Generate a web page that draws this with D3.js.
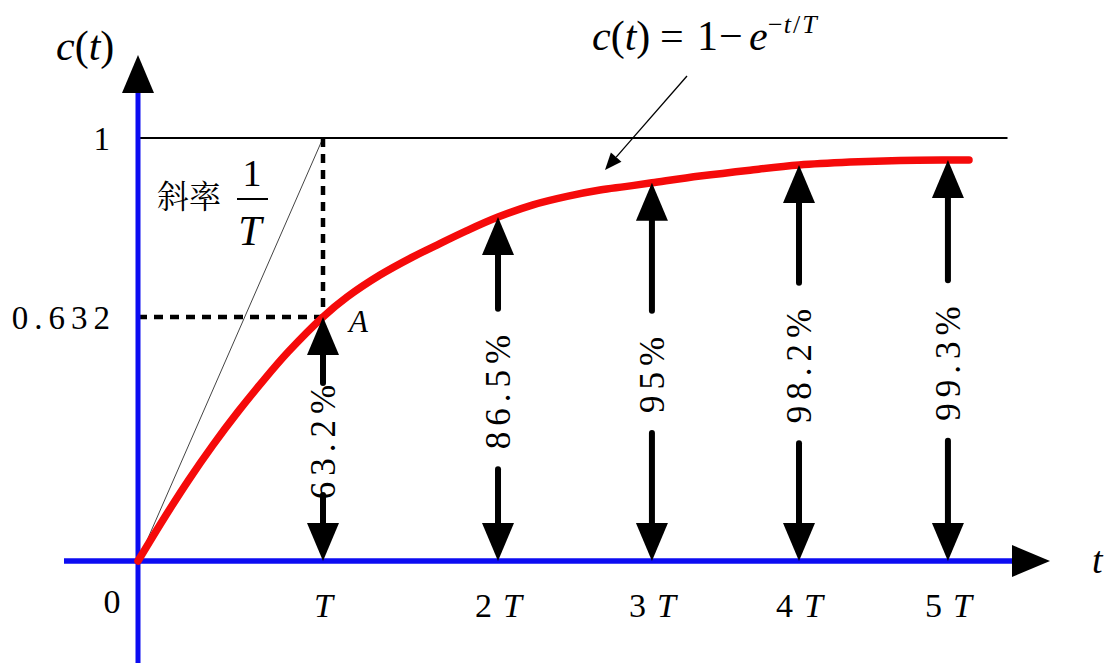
<!DOCTYPE html>
<html><head><meta charset="utf-8">
<script src="https://cdn.jsdelivr.net/npm/d3@7"></script>
<style>body{margin:0;background:#fff}svg{display:block}</style>
</head><body>
<svg id="c" width="1115" height="663"></svg>
<script>
// ---- data (schematic units: t in T, c as drawn height) ----
const curveT = [0, 0.135, 0.270, 0.405, 0.541, 0.676, 0.811, 1.0, 1.130, 1.308, 1.486, 1.616, 1.778, 1.946, 2.135, 2.319, 2.497, 2.632, 2.778, 3.038, 3.308, 3.573, 3.849, 4.119, 4.378, 4.492];
const curveC = [0, 0.097, 0.189, 0.274, 0.353, 0.426, 0.494, 0.577, 0.624, 0.676, 0.719, 0.747, 0.781, 0.813, 0.842, 0.862, 0.877, 0.885, 0.894, 0.910, 0.924, 0.936, 0.943, 0.947, 0.948, 0.948];
const tickT = [1, 1.946, 2.778, 3.573, 4.378];
const tickNum = ["", "2", "3", "4", "5"];
const percentLabels = ["63.2%", "86.5%", "95%", "98.2%", "99.3%"];
const yTickValues = [0.577, 1];
const yTickLabels = ["0.632", "1"];
const tangentEnd = [1, 1];
const steadyLineEnd = 4.7;

const SERIF = '"Liberation Serif"';
const CJK = '"Noto Serif CJK SC"';
const BLUE = "#0c0cf2", RED = "#f50a0a";

const svg = d3.select("#c");
const x = d3.scaleLinear().domain([0, 4.5]).range([138, 970.5]);
const y = d3.scaleLinear().domain([0, 1]).range([561, 138]);
const pts = curveT.map((t, i) => [t, curveC[i]]);
const cAt = t => curveC[curveT.indexOf(t)];

// steady-state line c=1
svg.append("line").attr("x1", x(0)).attr("x2", x(steadyLineEnd))
  .attr("y1", y(1)).attr("y2", y(1)).attr("stroke", "#000").attr("stroke-width", 2);

// tangent line slope 1/T
svg.append("line").attr("x1", x(0)).attr("y1", y(0))
  .attr("x2", x(tangentEnd[0])).attr("y2", y(tangentEnd[1]))
  .attr("stroke", "#444").attr("stroke-width", 1);

// dashed guides at A
const aC = cAt(1);
svg.append("line").attr("x1", x(0)).attr("x2", x(1)).attr("y1", y(aC)).attr("y2", y(aC))
  .attr("stroke", "#000").attr("stroke-width", 4.5).attr("stroke-dasharray", "9,7");
svg.append("line").attr("x1", x(1)).attr("x2", x(1)).attr("y1", y(1)).attr("y2", y(aC))
  .attr("stroke", "#000").attr("stroke-width", 4.5).attr("stroke-dasharray", "9,7");

// axes lines (blue) with black arrowheads
const x0 = x(0), y0 = y(0);
svg.append("line").attr("x1", x0).attr("x2", x0).attr("y1", 663).attr("y2", 90)
  .attr("stroke", BLUE).attr("stroke-width", 5);
svg.append("path").attr("d", `M${x0},55 L${x0-16},93 L${x0+16},93 Z`).attr("fill", "#000");
svg.append("line").attr("x1", 64).attr("x2", 1014).attr("y1", y0).attr("y2", y0)
  .attr("stroke", BLUE).attr("stroke-width", 5.5);
svg.append("path").attr("d", `M1050,${y0} L1012,${y0-16} L1012,${y0+16} Z`).attr("fill", "#000");

// response curve
svg.append("path").datum(pts)
  .attr("d", d3.line().x(d => x(d[0])).y(d => y(d[1])).curve(d3.curveCatmullRom.alpha(0.5)))
  .attr("fill", "none").attr("stroke", RED).attr("stroke-width", 7.5).attr("stroke-linecap", "round");

// double arrows with percentage labels
const headH = 38, headW = 16;
tickT.forEach((t, i) => {
  const px = x(t), tipY = y(cAt(t));
  const g = svg.append("g");
  g.append("path").attr("d", `M${px},${tipY} L${px-headW},${tipY+headH} L${px+headW},${tipY+headH} Z`).attr("fill", "#000");
  g.append("path").attr("d", `M${px},${y0} L${px-headW},${y0-headH} L${px+headW},${y0-headH} Z`).attr("fill", "#000");
  const top = tipY + headH, bot = y0 - headH, mid = (top + bot) / 2;
  const txt = g.append("text").style("font-family", SERIF)
    .attr("transform", `translate(${px},${mid}) rotate(-90)`)
    .attr("text-anchor", "middle").attr("dy", "0.34em")
    .attr("font-size", 35).attr("letter-spacing", 6)
    .text(percentLabels[i]);
  const len = txt.node().getComputedTextLength();
  const half = Math.min(len / 2 + 20, (bot - top) / 2 - 28);
  g.append("line").attr("x1", px).attr("x2", px).attr("y1", top - 2).attr("y2", mid - half)
    .attr("stroke", "#000").attr("stroke-width", 6).attr("stroke-linecap", "round");
  g.append("line").attr("x1", px).attr("x2", px).attr("y1", mid + half).attr("y2", bot + 2)
    .attr("stroke", "#000").attr("stroke-width", 6).attr("stroke-linecap", "round");
});

// x axis tick labels
const xAxis = svg.append("g").attr("transform", `translate(0,${y0})`)
  .call(d3.axisBottom(x).tickValues(tickT).tickSize(0).tickPadding(32).tickFormat(""));
xAxis.select(".domain").remove();
xAxis.selectAll(".tick text").each(function(d, i) {
  const t = d3.select(this).style("font-family", SERIF).attr("font-size", 34).attr("fill", "#000");
  if (tickNum[i]) t.append("tspan").text(tickNum[i]);
  t.append("tspan").attr("font-style", "italic").attr("dx", tickNum[i] ? 11 : 0).text("T");
});
svg.append("text").style("font-family", SERIF).attr("x", x0 - 26).attr("y", y0 + 52)
  .attr("text-anchor", "middle").attr("font-size", 34).text("0");

// y axis tick labels
const yAxis = svg.append("g").attr("transform", `translate(${x0},0)`)
  .call(d3.axisLeft(y).tickValues(yTickValues).tickSize(0).tickPadding(22)
    .tickFormat((d, i) => yTickLabels[i]));
yAxis.select(".domain").remove();
yAxis.selectAll(".tick text").style("font-family", SERIF).attr("font-size", 33)
  .attr("fill", "#000").attr("letter-spacing", 6).attr("dy", "0.36em");

// axis titles
const yl = svg.append("text").style("font-family", SERIF).attr("x", 56).attr("y", 60).attr("font-size", 42);
yl.append("tspan").attr("font-style", "italic").text("c");
yl.append("tspan").text("(");
yl.append("tspan").attr("font-style", "italic").text("t");
yl.append("tspan").text(")");
svg.append("text").style("font-family", SERIF).attr("x", 1092).attr("y", 573)
  .attr("font-size", 38).attr("font-style", "italic").text("t");

// point A
svg.append("text").style("font-family", SERIF).attr("x", x(1) + 26).attr("y", y(aC) + 15)
  .attr("font-size", 31).attr("font-style", "italic").text("A");

// slope annotation
svg.append("text").style("font-family", CJK).attr("x", 157).attr("y", 208)
  .attr("font-size", 32).text("斜率");
svg.append("text").style("font-family", SERIF).attr("x", 252).attr("y", 186).attr("text-anchor", "middle")
  .attr("font-size", 38).text("1");
svg.append("line").attr("x1", 237).attr("x2", 268).attr("y1", 199).attr("y2", 199)
  .attr("stroke", "#000").attr("stroke-width", 2);
svg.append("text").style("font-family", SERIF).attr("x", 250).attr("y", 245).attr("text-anchor", "middle")
  .attr("font-size", 42).attr("font-style", "italic").text("T");

// formula
const f = svg.append("text").style("font-family", SERIF).attr("y", 50).attr("font-size", 42);
f.append("tspan").attr("x", 592).attr("font-style", "italic").text("c");
f.append("tspan").text("(");
f.append("tspan").attr("font-style", "italic").text("t");
f.append("tspan").text(")");
f.append("tspan").attr("x", 660).text("=");
f.append("tspan").attr("x", 697).text("1");
f.append("tspan").attr("x", 719).text("\u2212");
f.append("tspan").attr("x", 749).attr("font-style", "italic").text("e");
const sup = svg.append("text").style("font-family", SERIF).attr("y", 33).attr("font-size", 26);
sup.append("tspan").attr("x", 768).text("\u2212");
sup.append("tspan").attr("font-style", "italic").attr("dx", 1).text("t");
sup.append("tspan").attr("dx", 2).text("/");
sup.append("tspan").attr("font-style", "italic").attr("dx", 2).text("T");

// pointer arrow to curve
const sx = 687, sy = 76, tx = 605, ty = 170;
const L = Math.hypot(tx - sx, ty - sy), ux = (tx - sx) / L, uy = (ty - sy) / L;
const hl = 17, hw = 7;
svg.append("line").attr("x1", sx).attr("y1", sy).attr("x2", tx - ux * hl).attr("y2", ty - uy * hl)
  .attr("stroke", "#000").attr("stroke-width", 1.3);
svg.append("path").attr("d",
  `M${tx},${ty} L${tx - ux*hl - uy*hw},${ty - uy*hl + ux*hw} L${tx - ux*hl + uy*hw},${ty - uy*hl - ux*hw} Z`)
  .attr("fill", "#000");
</script>
</body></html>
